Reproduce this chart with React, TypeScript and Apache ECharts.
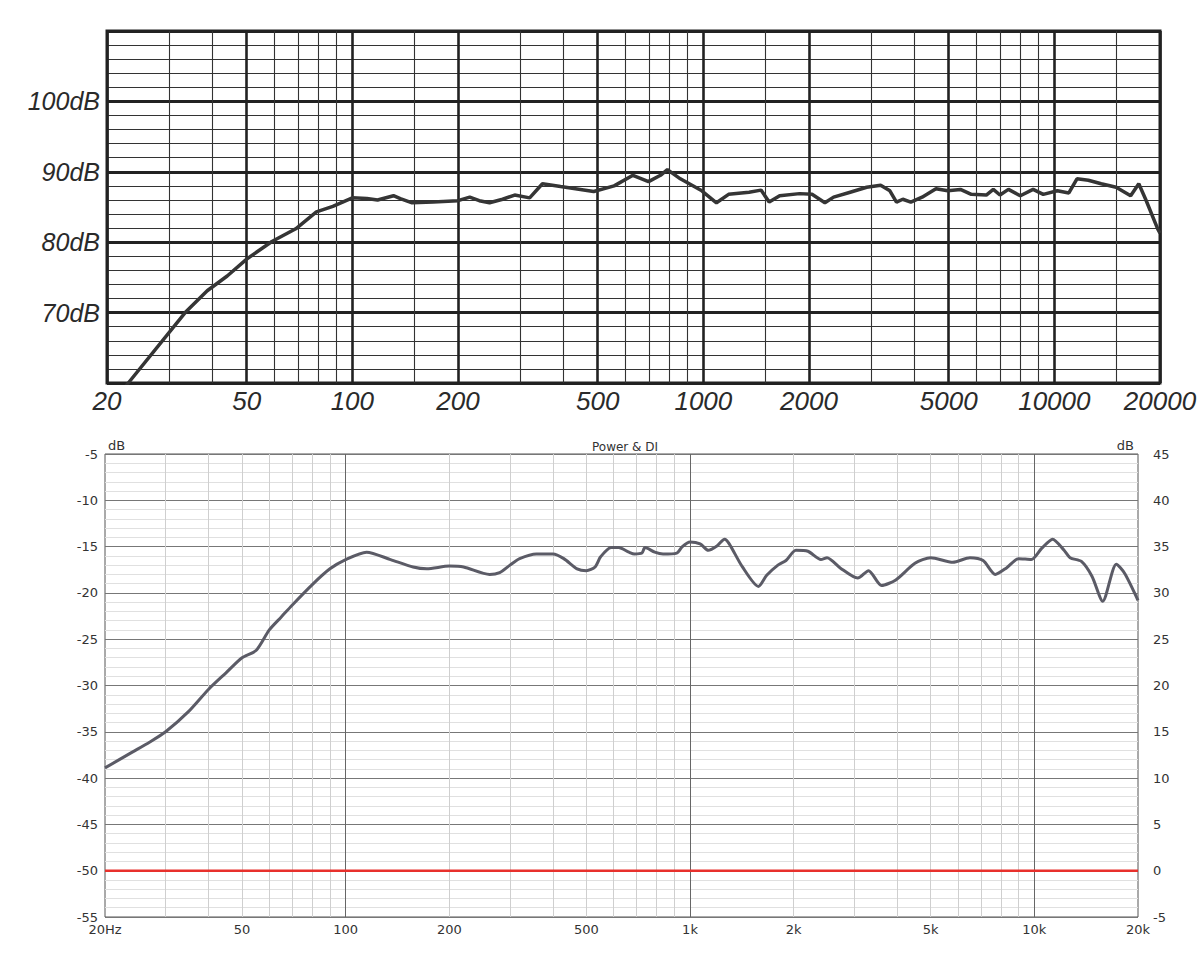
import React, { useEffect, useRef } from "react";
import * as echarts from "echarts";

// ---- Top chart (paper chart) data ----
const TOP_FREQ = [22, 23, 33.4, 38.6, 44, 50, 59, 69, 79, 88, 100, 110, 118, 131, 137, 148, 170, 200, 216, 230, 246, 268, 290, 320, 348, 392, 487, 557, 630, 698, 755, 790, 860, 990, 1090, 1180, 1350, 1460, 1540, 1650, 1880, 2040, 2220, 2350, 2620, 2920, 3200, 3400, 3550, 3700, 3900, 4200, 4600, 4970, 5400, 5800, 6400, 6700, 7000, 7400, 8000, 8700, 9300, 10200, 11000, 11600, 12500, 13600, 15000, 16500, 17400, 18200, 19700, 20000];
const TOP_SPL = [58.8, 60.0, 70.0, 73.1, 75.2, 77.6, 80.1, 81.9, 84.3, 85.1, 86.3, 86.2, 86.0, 86.6, 86.2, 85.6, 85.7, 85.9, 86.4, 85.9, 85.6, 86.1, 86.7, 86.3, 88.3, 87.9, 87.2, 88.0, 89.5, 88.6, 89.5, 90.3, 89.0, 87.3, 85.6, 86.8, 87.1, 87.4, 85.7, 86.6, 86.9, 86.8, 85.6, 86.4, 87.1, 87.8, 88.1, 87.3, 85.7, 86.1, 85.7, 86.4, 87.6, 87.3, 87.5, 86.8, 86.7, 87.5, 86.7, 87.5, 86.6, 87.5, 86.8, 87.3, 87.0, 89.0, 88.8, 88.3, 87.8, 86.6, 88.3, 86.1, 81.9, 81.3];
const TOP_MAJOR_X = [20, 50, 100, 200, 500, 1000, 2000, 5000, 10000, 20000];
const TOP_MINOR_X = [30, 40, 60, 70, 80, 90, 150, 300, 400, 600, 700, 800, 900, 1500, 3000, 4000, 6000, 7000, 8000, 9000, 15000];

// ---- Bottom chart (Power & DI) data ----
const POW_FREQ = [20, 24, 27, 30, 35, 40, 45, 50, 55, 60, 65, 70, 80, 90, 100, 115, 135, 157, 172, 200, 220, 262, 280, 300, 320, 358, 400, 430, 470, 500, 530, 550, 590, 620, 665, 690, 725, 740, 790, 835, 915, 950, 1000, 1070, 1130, 1200, 1260, 1300, 1420, 1580, 1670, 1800, 1900, 2030, 2200, 2400, 2500, 2730, 3070, 3300, 3600, 3960, 4500, 5000, 5800, 6500, 7100, 7700, 8300, 9000, 9800, 10500, 11300, 12200, 12700, 13700, 14700, 15800, 17300, 18300, 20000];
const POW_DB = [-38.9, -37.2, -36.1, -35.0, -32.8, -30.4, -28.6, -27.0, -26.2, -24.0, -22.6, -21.3, -19.1, -17.4, -16.4, -15.6, -16.4, -17.2, -17.4, -17.1, -17.2, -18.0, -17.8, -17.0, -16.3, -15.8, -15.8, -16.3, -17.4, -17.6, -17.2, -16.1, -15.1, -15.1, -15.6, -15.8, -15.7, -15.1, -15.6, -15.8, -15.7, -15.0, -14.5, -14.7, -15.4, -14.9, -14.2, -14.7, -17.2, -19.3, -18.1, -17.0, -16.5, -15.4, -15.5, -16.4, -16.2, -17.3, -18.4, -17.6, -19.2, -18.6, -16.8, -16.2, -16.7, -16.2, -16.5, -18.0, -17.3, -16.3, -16.4, -15.2, -14.2, -15.4, -16.2, -16.6, -18.2, -20.9, -16.9, -17.9, -20.8];
const DI_FREQ = [20, 20000];
const DI_DB = [0, 0];
const BOT_LABEL_X = [20, 50, 100, 200, 500, 1000, 2000, 5000, 10000, 20000];
const BOT_LABEL_TEXT = ["20Hz", "50", "100", "200", "500", "1k", "2k", "5k", "10k", "20k"];
const BOT_MAJOR_X = [100, 1000, 10000];
const BOT_MINOR_X = [30, 40, 50, 60, 70, 80, 90, 200, 300, 400, 500, 600, 700, 800, 900, 2000, 3000, 4000, 5000, 6000, 7000, 8000, 9000];

function nearestIdx(arr: number[], v: number) {
  let best = 0;
  for (let i = 1; i < arr.length; i++) {
    if (Math.abs(Math.log(arr[i] / v)) < Math.abs(Math.log(arr[best] / v))) best = i;
  }
  return best;
}

export default function App() {
  const ref = useRef<HTMLDivElement>(null);
  useEffect(() => {
    if (!ref.current) return;
    const chart = echarts.init(ref.current, undefined, { renderer: "svg" });
    const font = "'Liberation Sans', Arial, sans-serif";
    const font2 = "'DejaVu Sans', 'Liberation Sans', sans-serif";
    const option: any = {
      animation: false,
      backgroundColor: "#ffffff",
      textStyle: { fontFamily: font },
      title: {
        text: "Power & DI",
        left: 620,
        top: 436,
        textAlign: "center",
        textStyle: { fontSize: 12, fontWeight: "normal", color: "#333", fontFamily: font2 },
      },
      grid: [
        { left: 107, top: 31, width: 1053, height: 352, show: true, borderColor: "#222", borderWidth: 3, backgroundColor: "transparent" },
        { left: 105, top: 454, width: 1033, height: 463, show: true, borderColor: "#555", borderWidth: 1, backgroundColor: "transparent" },
      ],
      xAxis: [
        {
          type: "log", gridIndex: 0, min: 20, max: 20000,
          axisLine: { show: false },
          axisTick: { show: false, customValues: TOP_MAJOR_X },
          splitLine: { show: true, lineStyle: { color: "#222", width: 2.6 } },
          axisLabel: {
            customValues: TOP_MAJOR_X, margin: 5, fontSize: 26, fontStyle: "italic", color: "#2a2a2a",
            formatter: (v: number) => String(TOP_MAJOR_X[nearestIdx(TOP_MAJOR_X, v)]),
          },
        },
        {
          type: "log", gridIndex: 0, min: 20, max: 20000,
          axisLine: { show: false },
          axisTick: { show: false, customValues: TOP_MINOR_X },
          splitLine: { show: true, lineStyle: { color: "#333", width: 1.1 } },
          axisLabel: { show: false },
        },
        {
          type: "log", gridIndex: 1, min: 20, max: 20000,
          axisLine: { show: false },
          axisTick: { show: false, customValues: BOT_MAJOR_X },
          splitLine: { show: true, lineStyle: { color: "#666", width: 1 } },
          axisLabel: {
            customValues: BOT_LABEL_X, margin: 6, fontSize: 13, color: "#333", fontFamily: font2,
            formatter: (v: number) => BOT_LABEL_TEXT[nearestIdx(BOT_LABEL_X, v)],
          },
        },
        {
          type: "log", gridIndex: 1, min: 20, max: 20000,
          axisLine: { show: false },
          axisTick: { show: false, customValues: BOT_MINOR_X },
          splitLine: { show: true, lineStyle: { color: "#cfcfcf", width: 1 } },
          axisLabel: { show: false },
        },
      ],
      yAxis: [
        {
          type: "value", gridIndex: 0, min: 60, max: 110, interval: 10,
          axisLine: { show: false }, axisTick: { show: false },
          splitLine: { show: true, lineStyle: { color: "#222", width: 3 } },
          minorTick: { show: false, splitNumber: 5 },
          minorSplitLine: { show: true, lineStyle: { color: "#333", width: 1.1 } },
          axisLabel: {
            margin: 7, fontSize: 25, fontStyle: "italic", color: "#2a2a2a",
            formatter: (v: number) => (v === 60 || v === 110 ? "" : v + "dB"),
          },
        },
        {
          type: "value", gridIndex: 1, min: -55, max: -5, interval: 5, position: "left",
          name: "dB", nameLocation: "end", nameGap: 2,
          nameTextStyle: { align: "left", verticalAlign: "bottom", fontSize: 13, color: "#333", fontFamily: font2, padding: [0, 0, 0, 3] },
          axisLine: { show: false }, axisTick: { show: false },
          splitLine: { show: true, lineStyle: { color: "#777", width: 1 } },
          minorTick: { show: false, splitNumber: 5 },
          minorSplitLine: { show: true, lineStyle: { color: "#e0e0e0", width: 1 } },
          axisLabel: { margin: 7, fontSize: 13, color: "#333", fontFamily: font2 },
        },
        {
          type: "value", gridIndex: 1, min: -5, max: 45, interval: 5, position: "right",
          name: "dB", nameLocation: "end", nameGap: 2,
          nameTextStyle: { align: "right", verticalAlign: "bottom", fontSize: 13, color: "#333", fontFamily: font2, padding: [0, 4, 0, 0] },
          axisLine: { show: false }, axisTick: { show: false },
          splitLine: { show: false },
          axisLabel: { margin: 15, fontSize: 13, color: "#333", fontFamily: font2 },
        },
      ],
      series: [
        {
          name: "SPL", type: "line", xAxisIndex: 0, yAxisIndex: 0,
          data: TOP_FREQ.map((f, i) => [f, TOP_SPL[i]]),
          showSymbol: false, clip: true,
          lineStyle: { color: "#353535", width: 3.5 },
        },
        {
          name: "Power", type: "line", xAxisIndex: 2, yAxisIndex: 1,
          data: POW_FREQ.map((f, i) => [f, POW_DB[i]]),
          showSymbol: false, smooth: 0.25, clip: true,
          lineStyle: { color: "#5b5b66", width: 3 },
        },
        {
          name: "DI", type: "line", xAxisIndex: 2, yAxisIndex: 2,
          data: DI_FREQ.map((f, i) => [f, DI_DB[i]]),
          showSymbol: false,
          lineStyle: { color: "#e8302c", width: 2.5 },
        },
      ],
    };
    chart.setOption(option);
    return () => chart.dispose();
  }, []);
  return (
    <div
      ref={ref}
      style={{ position: "fixed", left: 0, top: 0, width: 1200, height: 960, background: "#fff" }}
    />
  );
}
